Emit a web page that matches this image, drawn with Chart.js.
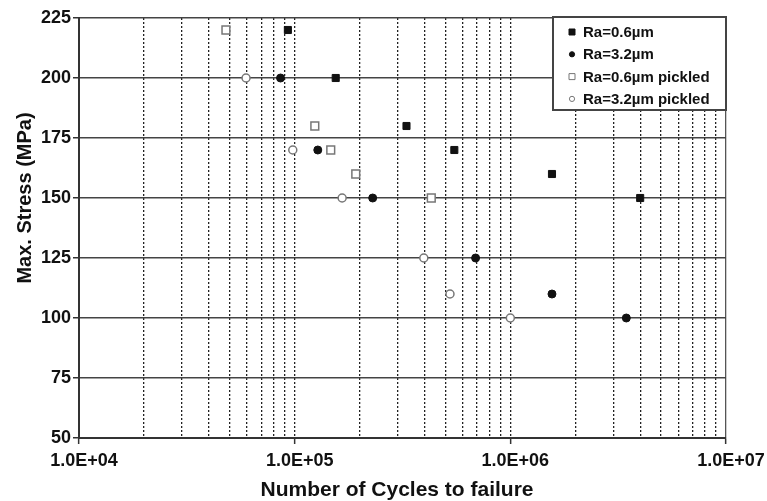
<!DOCTYPE html>
<html>
<head>
<meta charset="utf-8">
<script src="https://cdn.jsdelivr.net/npm/chart.js@4.4.0/dist/chart.umd.min.js"></script>
<style>
  html, body { margin: 0; padding: 0; background: #ffffff; }
  #wrap { width: 767px; height: 501px; }
</style>
</head>
<body>
<div id="wrap"><canvas id="c" width="767" height="501"></canvas></div>
<script>
// ---- data ----
const seriesLabels = ['Ra=0.6\u00b5m', 'Ra=3.2\u00b5m', 'Ra=0.6\u00b5m pickled', 'Ra=3.2\u00b5m pickled'];

const ra06Cycles  = [9.3e4, 1.55e5, 3.3e5, 5.5e5, 1.56e6, 4.0e6];
const ra06Stress  = [220, 200, 180, 170, 160, 150];

const ra32Cycles  = [8.6e4, 1.28e5, 2.3e5, 6.9e5, 1.56e6, 3.45e6];
const ra32Stress  = [200, 170, 150, 125, 110, 100];

const ra06pCycles = [4.8e4, 1.24e5, 1.47e5, 1.92e5, 4.3e5];
const ra06pStress = [220, 180, 170, 160, 150];

const ra32pCycles = [5.95e4, 9.8e4, 1.66e5, 3.97e5, 5.25e5, 1.0e6];
const ra32pStress = [200, 170, 150, 125, 110, 100];

const xDecades    = [1e4, 1e5, 1e6, 1e7];
const xTickLabels = ['1.0E+04', '1.0E+05', '1.0E+06', '1.0E+07'];
const yTickValues = [50, 75, 100, 125, 150, 175, 200, 225];

const xTitle = 'Number of Cycles to failure';
const yTitle = 'Max. Stress (MPa)';

function pts(xs, ys) { return xs.map((x, i) => ({ x: x, y: ys[i] })); }

const FONT = 'Arial, "Liberation Sans", sans-serif';

const datasets = [
  { label: seriesLabels[0], data: pts(ra06Cycles, ra06Stress), pointStyle: 'rect', pointRadius: 5,
    backgroundColor: '#111', borderColor: '#111', borderWidth: 1, legendSize: 3 },
  { label: seriesLabels[1], data: pts(ra32Cycles, ra32Stress), pointStyle: 'circle', pointRadius: 4,
    backgroundColor: '#111', borderColor: '#111', borderWidth: 1, legendSize: 2.6 },
  { label: seriesLabels[2], data: pts(ra06pCycles, ra06pStress), pointStyle: 'rect', pointRadius: 5.5,
    backgroundColor: '#fff', borderColor: '#777', borderWidth: 1.5, legendSize: 3 },
  { label: seriesLabels[3], data: pts(ra32pCycles, ra32pStress), pointStyle: 'circle', pointRadius: 4,
    backgroundColor: '#fff', borderColor: '#777', borderWidth: 1.5, legendSize: 2.6 }
];

// custom in-plot legend box
const boxLegend = {
  id: 'boxLegend',
  afterDraw(chart) {
    const ctx = chart.ctx;
    const area = chart.chartArea;
    const w = 173, h = 93;
    const x0 = area.right - w, y0 = area.top - 1;
    ctx.save();
    ctx.fillStyle = '#fff';
    ctx.fillRect(x0, y0, w, h);
    ctx.strokeStyle = '#444';
    ctx.lineWidth = 2;
    ctx.strokeRect(x0, y0, w, h);
    ctx.font = 'bold 15px ' + FONT;
    ctx.textBaseline = 'middle';
    ctx.textAlign = 'left';
    chart.data.datasets.forEach((ds, i) => {
      const cy = y0 + 15 + i * 22.3;
      const mx = x0 + 19;
      ctx.fillStyle = ds.backgroundColor;
      ctx.strokeStyle = ds.borderColor;
      ctx.lineWidth = 1;
      const s = ds.legendSize;
      ctx.beginPath();
      if (ds.pointStyle === 'rect') ctx.rect(mx - s, cy - s, 2 * s, 2 * s);
      else ctx.arc(mx, cy, s, 0, Math.PI * 2);
      ctx.fill();
      ctx.stroke();
      ctx.fillStyle = '#111';
      ctx.fillText(ds.label, x0 + 30, cy + 1);
    });
    ctx.restore();
  }
};

// axis titles
const axisTitles = {
  id: 'axisTitles',
  afterDraw(chart) {
    const ctx = chart.ctx;
    const area = chart.chartArea;
    ctx.save();
    ctx.fillStyle = '#111';
    ctx.textAlign = 'center';
    ctx.textBaseline = 'middle';
    ctx.font = 'bold 21px ' + FONT;
    ctx.fillText(xTitle, 397, 490);
    ctx.font = 'bold 20px ' + FONT;
    ctx.translate(25, 198);
    ctx.rotate(-Math.PI / 2);
    ctx.fillText(yTitle, 0, 0);
    ctx.restore();
  }
};

new Chart(document.getElementById('c'), {
  type: 'scatter',
  data: { datasets: datasets },
  options: {
    responsive: false,
    animation: false,
    devicePixelRatio: 1,
    layout: { padding: { left: 0, right: 41, top: 18, bottom: 0 } },
    plugins: { legend: { display: false }, tooltip: { enabled: false } },
    scales: {
      x: {
        type: 'logarithmic',
        min: 1e4,
        max: 1e7,
        afterBuildTicks(scale) {
          const t = [];
          for (let d = 0; d < xDecades.length - 1; d++) {
            for (let m = 1; m <= 9; m++) t.push({ value: xDecades[d] * m });
          }
          t.push({ value: xDecades[xDecades.length - 1] });
          scale.ticks = t;
        },
        afterFit(scale) { scale.height = 63; },
        ticks: {
          autoSkip: false,
          maxRotation: 0,
          minRotation: 0,
          padding: 6,
          labelOffset: 5,
          color: '#111',
          font: { family: FONT, size: 18, weight: 'bold' },
          callback(value) {
            const i = xDecades.indexOf(value);
            return i >= 0 ? xTickLabels[i] : '';
          }
        },
        grid: {
          drawOnChartArea: true,
          drawTicks: true,
          tickLength: 6,
          lineWidth: 1.3,
          color(ctx) {
            if (!ctx.tick) return '#333';
            if (ctx.tick.value === 1e4) return 'rgba(0,0,0,0)';
            if (ctx.tick.value === 1e7) return '#555';
            return '#222';
          },
          tickColor(ctx) {
            if (ctx.tick && xDecades.indexOf(ctx.tick.value) >= 0) return '#333';
            return 'rgba(0,0,0,0)';
          },
          tickWidth: 1.5
        },
        border: {
          display: true,
          color: '#333',
          width: 2,
          dash(ctx) {
            if (ctx.tick && ctx.tick.value !== 1e7) return [2, 2];
            return [];
          }
        }
      },
      y: {
        type: 'linear',
        min: 50,
        max: 225,
        afterBuildTicks(scale) {
          scale.ticks = yTickValues.map(v => ({ value: v }));
        },
        afterFit(scale) { scale.width = 79; },
        ticks: {
          padding: 2,
          color: '#111',
          font: { family: FONT, size: 18, weight: 'bold' },
          callback(value) { return String(value); }
        },
        grid: {
          color(ctx) { return (ctx.tick && ctx.tick.value === 50) ? 'rgba(0,0,0,0)' : '#444'; },
          lineWidth: 1.5,
          tickLength: 6,
          tickColor: '#333',
          tickWidth: 1.5
        },
        border: { display: true, color: '#333', width: 2 }
      }
    }
  },
  plugins: [boxLegend, axisTitles]
});
</script>
</body>
</html>
